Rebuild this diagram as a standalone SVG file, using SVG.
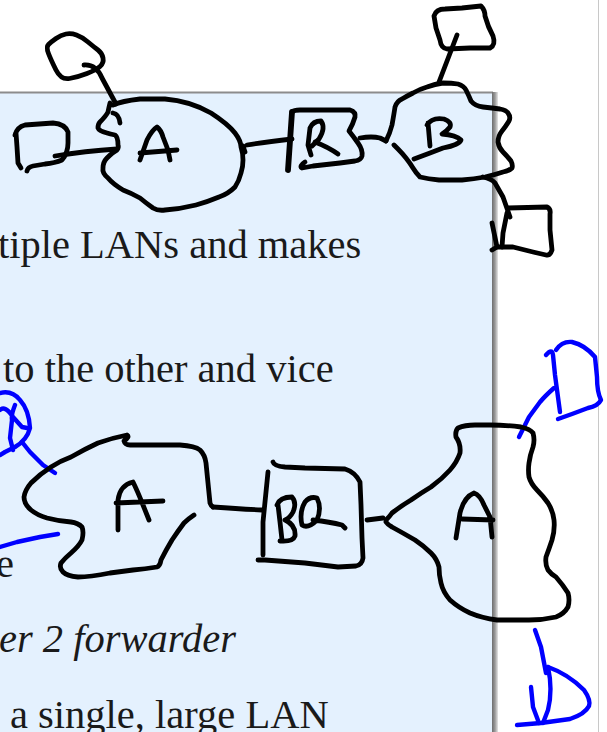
<svg xmlns="http://www.w3.org/2000/svg" width="607" height="732" viewBox="0 0 607 732">
<defs>
<linearGradient id="shadow" x1="0" y1="0" x2="1" y2="0">
<stop offset="0" stop-color="#6e6e6e"/>
<stop offset="0.5" stop-color="#9a9a9a"/>
<stop offset="1" stop-color="#e6e6e6"/>
</linearGradient>
</defs>
<style>
.ink{fill:none;stroke:#000;stroke-width:4.8;stroke-linecap:round;stroke-linejoin:round}
.blue{fill:none;stroke:#0000ff;stroke-width:4.4;stroke-linecap:round;stroke-linejoin:round}
.thick{stroke-width:5.8}
.txt{font-family:"Liberation Serif","Times New Roman",serif;font-size:40.5px;fill:#1a1a1a}
.it{font-style:italic}
</style>
<rect x="0" y="0" width="607" height="732" fill="#ffffff"/>
<g id="slide">
<rect x="-2" y="92" width="494" height="645" fill="#e4f1fe"/>
<line x1="-2" y1="92.5" x2="493" y2="92.5" stroke="#8c8c8c" stroke-width="2"/>
<rect x="492" y="92" width="6" height="645" fill="url(#shadow)"/>
<line x1="598.5" y1="0" x2="598.5" y2="732" stroke="#c8c8c8" stroke-width="1"/>
<text class="txt" x="-2" y="258">tiple LANs and makes</text>
<text class="txt" x="3" y="382">to the other and vice</text>
<text class="txt" x="-4" y="577">e</text>
<text class="txt it" x="-1" y="652">er 2 forwarder</text>
<text class="txt" x="10" y="728">a single, large LAN</text>
</g>
<g id="connectors">
<path class="ink" d="M84,65 Q96,64 102,78 L116,104"/>
<path class="ink" d="M55,156 Q85,151 117,149"/>
<path class="ink" d="M243,146 L245,152 M247,145 Q265,142 292,139"/>
<path class="ink" d="M360,138 Q372,136 380,138 L386,141"/>
<path class="ink" d="M439,82 L457,35"/>
<path class="ink" d="M483,177 Q492,179 495,183 L503,197 L510,217"/>
<path class="ink" d="M213,507 Q240,509 262,510"/>
<path class="ink" d="M367,520 L383,518"/>
<path class="blue" d="M554,388 Q545,396 540,402 L529,417 L519,437"/>
<path class="blue" d="M22,442 L30,452 L43,465 L55,473"/>
<path class="blue" d="M58,534 L40,537 L17,542 L0,547"/>
</g>
<g id="host-top-left">
<path class="ink" d="M48.5,44.5 Q46,47 48.5,53.5 Q51,60 56,70 Q61,80 69.5,78.5 Q78,77 87,73.5 Q96,70 100,66.5 Q104,63 103,58 Q102,53 98,50 Q94,47 88,42 Q82,37 76.5,35 Q71,33 66,34 Q61,35 56,38.5 Q51,42 48.5,44.5 Z"/>
</g>
<g id="host-left">
<path class="ink" d="M16,133 L17,147 L18,163 L21,168"/>
<path class="ink" d="M15,135 Q17,127 25,125 L53,123 Q65,124 68,132 L68,143 Q68,153 62,160 Q55,163 45,164 L33,166 Q28,167 27,171"/>
</g>
<g id="lan-a-top">
<path class="ink" d="M113,105 Q122,101 140,99 L165,99 Q190,101 211,113 Q228,124 235,133 Q241,141 241,147 Q243,153 243,160 Q243,167 241,173 Q239,181 235,187 Q228,194 219,197 Q207,202 196,205 Q180,209 165,210 Q158,211 153,208 Q146,203 140,198 Q131,193 123,190 Q113,184 108,178 Q102,173 103,168 Q103,162 107,158 Q113,152 117,150 Q119,147 118,145 Q118,137 115,135 Q110,134 107,133 Q99,131 98,128 Q98,124 100,122 Q106,116 108,112 Q109,107 110,103"/>
<path class="ink" d="M113,113 Q119,114 120,123"/>
<path class="ink" d="M140,160 L147,140 Q152,130 157,127 Q161,130 163,137 L168,150 L170,160 M140,153 L177,150"/>
</g>
<g id="router-r">
<path class="ink thick" d="M292,112 L288,170"/>
<path class="ink" d="M292,112 Q294,110 300,110 L350,110 Q356,112 355,117 Q353,124 349,131 Q353,136 358,143 Q363,150 362,156 Q361,160 355,161 L340,163 L313,166 L302,168 Q299,166 305,162"/>
<path class="ink" d="M311,155 L308,145 L310,128 Q313,121 321,121 Q326,128 319,139 L312,146 M315,142 Q328,147 338,154"/>
</g>
<g id="lan-b">
<path class="ink" d="M386,141 Q390,133 392,125 Q394,114 395,107 Q397,101 402,99 Q407,96 413,93 Q420,89 427,87 Q435,84 443,83 Q452,83 458,84 Q464,86 466,90 Q469,96 471,101 Q475,106 483,107 Q492,108 500,109 Q506,110 508,113 Q511,117 509,121 Q506,126 502,131 Q498,136 498,142 Q499,148 503,152 Q508,157 511,161 Q513,165 512,168 Q509,171 503,172 Q494,175 485,177 Q474,179 462,180 L439,180 Q428,179 420,177 Q416,173 413,168 Q410,163 406,158 Q402,153 398,149 Q396,147 394,145"/>
<path class="ink" d="M428,123 L430,146 M427,125 Q432,117 444,119 Q452,122 450,127 Q447,131 442,134 Q456,135 461,140 Q459,145 443,148 L430,153 L414,159"/>
</g>
<g id="host-top-right">
<path class="ink" d="M436,28 L434,16 Q436,9 445,9 L462,8 L481,6 Q485,10 485,16 Q488,27 493,36 Q496,45 490,48 L470,48 L447,49 Q441,48 440,40 L436,28"/>
</g>
<g id="host-bottom-right">
<path class="ink" d="M492,223 L497,247 M507,213 L503,233 L502,247"/>
<path class="ink" d="M508,208 L547,207 Q551,209 550,214 L550,230 L552,250 Q550,256 546,255 L533,252 L513,247 L497,247 L492,250"/>
</g>
<g id="lan-a-left">
<path class="ink" d="M194,515 Q188,519 184,523 Q178,531 172,540 Q166,550 161,560 Q160,566 157,567 Q145,569 133,570 L110,573 Q90,577 78,577 Q67,576 63,572 Q59,568 61,563 Q65,558 71,553 Q79,546 82,540 Q84,532 82,527 Q78,523 71,522 Q58,521 47,518 Q37,515 31,510 Q24,504 24,497 Q25,490 31,483 Q40,474 51,467 Q60,461 71,457 Q85,449 98,443 Q112,438 127,435 Q130,437 124,441 Q125,445 130,445 L180,445 Q195,446 200,450 Q205,455 206,463 Q207,473 208,483 L210,503 Q211,506 213,507"/>
<path class="ink" d="M118,530 L118,500 Q120,485 133,482 Q137,490 143,505 L149,520 M116,503 L163,501"/>
</g>
<g id="bridge-bq">
<path class="ink" d="M268,472 L267,482 L263,522 L263,555"/>
<path class="ink" d="M273,462 Q274,466 285,467 L305,468 L345,469 Q355,472 360,482 L361,505 L362,538 L363,558 Q362,565 356,566 L338,567 L305,563 L265,560 L258,560"/>
<path class="ink" d="M278,505 L280,522 L282,540 M277,505 Q280,497 292,497 Q297,503 293,512 Q290,518 285,520 Q296,525 295,536 Q293,542 280,541"/>
<path class="ink" d="M305,502 Q299,512 302,525 Q308,529 317,520 Q322,508 317,498 Q310,496 305,502 M313,520 Q330,522 342,525 L345,528"/>
</g>
<g id="lan-a-right">
<path class="ink" d="M386,520 Q390,516 392,513 Q401,506 411,500 Q421,493 431,487 Q442,479 450,470 Q457,462 460,453 Q461,444 456,437 Q455,431 458,428 Q465,425 475,425 L490,425 Q506,425 521,427 Q530,429 533,433 Q535,440 533,447 Q530,455 529,463 Q528,470 529,477 Q531,484 537,490 Q543,496 548,503 Q553,511 554,520 Q555,530 552,540 Q549,549 546,557 Q545,565 548,570 Q551,574 556,577 Q563,585 568,593 Q570,600 568,607 Q564,614 556,617 Q543,620 529,620 L497,620 Q482,618 470,613 Q459,608 450,600 Q443,592 441,583 Q439,575 439,567 Q437,559 431,553 Q424,546 415,540 Q403,533 392,527 Q388,525 386,522"/>
<path class="ink" d="M456,538 L460,513 Q464,497 474,493 Q480,495 484,505 L490,517 L492,537 M462,519 L493,520"/>
</g>
<g id="host-blue-top-right">
<path class="blue" d="M546,355 Q552,348 553,355 L555,375 L560,412"/>
<path class="blue" d="M556,350 Q562,341 572,342 Q585,345 595,357 L597,377 Q597,392 601,400 Q598,406 588,408 L572,414 L558,419"/>
</g>
<g id="host-blue-bottom-right">
<path class="blue" d="M535,630 L541,647 L546,673"/>
<path class="blue" d="M548,667 Q553,690 548,710 L543,723"/>
<path class="blue" d="M548,667 Q568,674 584,690 Q591,700 589,706 Q585,714 570,719 L541,723 L517,725"/>
<path class="blue" d="M531,687 L533,707 L539,723"/>
</g>
<g id="host-blue-left">
<path class="blue" d="M0,393 Q12,390 20,400 Q29,410 30,428 Q27,440 15,447 L5,452 L0,455"/>
<path class="blue" d="M0,410 Q5,405 13,417 L22,427 L27,428 M15,405 Q11,415 12,420 L10,438 L13,450"/>
</g>
</svg>
